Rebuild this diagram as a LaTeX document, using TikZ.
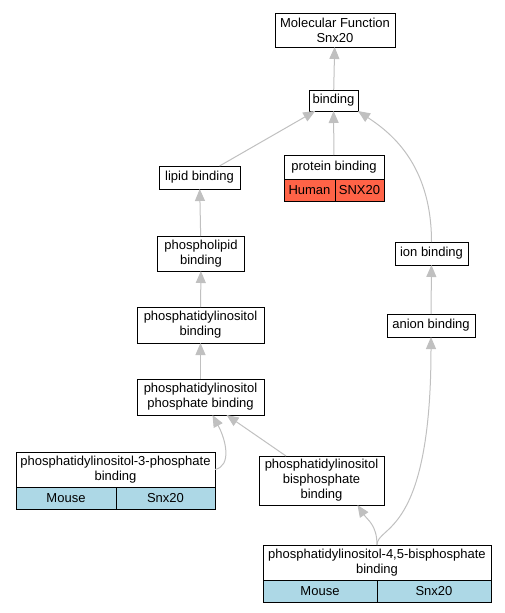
\documentclass[tikz,border=0pt]{standalone}
\usepackage{fontspec}
\setmainfont{Liberation Sans}
\usepackage{tikz}
\usetikzlibrary{arrows.meta,positioning}
\usepackage{xcolor}
\definecolor{goedge}{RGB}{192,192,192}
\definecolor{gohuman}{RGB}{255,99,71}
\definecolor{gomouse}{RGB}{173,216,230}
\tikzstyle{term} = [draw, fill=white, line width=1pt, outer sep=0pt, align=center, inner sep=1pt, font=\fontsize{13}{15}\selectfont]
\tikzstyle{cell} = [draw, line width=1pt, outer sep=0pt, inner sep=0pt, minimum height=22pt, anchor=north west, font=\fontsize{13}{15}\selectfont]
\tikzstyle{isa} = [line width=1pt, color=goedge, -{Triangle[length=12pt,width=10pt]}]

\begin{document}
\begin{tikzpicture}[x=1pt,y=-1pt]
\useasboundingbox (0,0) rectangle (505,613);

% Terms
\node[term, minimum width=120pt, minimum height=34pt] (mf) at (335,30) {Molecular Function\\Snx20};
\node[term, minimum width=49pt, minimum height=21pt] (binding) at (333.5,100.5) {binding};
\node[term, minimum width=100pt, minimum height=24pt] (protein) at (334,167) {protein binding};
\node[cell, fill=gohuman, minimum width=51pt] (proteinsp) at (protein.south west) {Human};
\node[cell, fill=gohuman, minimum width=49pt] (proteingene) at (proteinsp.north east) {SNX20};
\node[term, minimum width=81pt, minimum height=23pt] (lipid) at (199.5,177.5) {lipid binding};
\node[term, minimum width=73pt, minimum height=23pt] (ion) at (431.5,253.5) {ion binding};
\node[term, minimum width=87pt, minimum height=35pt] (phospholipid) at (201,253.5) {phospholipid\\binding};
\node[term, minimum width=88pt, minimum height=23pt] (anion) at (431,325.5) {anion binding};
\node[term, minimum width=127pt, minimum height=36pt] (pi) at (200.5,325) {phosphatidylinositol\\binding};
\node[term, minimum width=127pt, minimum height=36pt] (pip) at (200.5,397) {phosphatidylinositol\\phosphate binding};
\node[term, minimum width=199pt, minimum height=35pt] (pi3p) at (115.5,469.5) {phosphatidylinositol-3-phosphate\\binding};
\node[cell, fill=gomouse, minimum width=100pt] (pi3psp) at (pi3p.south west) {Mouse};
\node[cell, fill=gomouse, minimum width=99pt] (pi3pgene) at (pi3psp.north east) {Snx20};
\node[term, minimum width=125pt, minimum height=49pt] (pip2) at (321.5,480.5) {phosphatidylinositol\\bisphosphate\\binding};
\node[term, minimum width=228pt, minimum height=35pt] (pi45) at (377,562.5) {phosphatidylinositol-4,5-bisphosphate\\binding};
\node[cell, fill=gomouse, minimum width=114pt] (pi45sp) at (pi45.south west) {Mouse};
\node[cell, fill=gomouse, minimum width=114pt] (pi45gene) at (pi45sp.north east) {Snx20};

% Edges
\draw[isa] (binding) -- (mf);
\draw[isa] (lipid) -- (binding);
\draw[isa] (protein) -- (binding);
\draw[isa] (ion.north) .. controls +(0,-80) and +(30,20) .. (binding.south east);
\draw[isa] (phospholipid) -- (lipid);
\draw[isa] (pi) -- (phospholipid);
\draw[isa] (pip) -- (pi);
\draw[isa] (anion) -- (ion);
\draw[isa] (pi3p.east) .. controls (232,466) and (226,440) .. ([xshift=12pt]pip.south);
\draw[isa] (pip2) -- (pip);
\draw[isa] (pi45.north) .. controls +(0,-20) and +(10,15) .. ([xshift=36pt]pip2.south);
\draw[isa] (pi45.north) .. controls +(0,-20) and +(0,200) .. (anion.south);
\end{tikzpicture}
\end{document}
